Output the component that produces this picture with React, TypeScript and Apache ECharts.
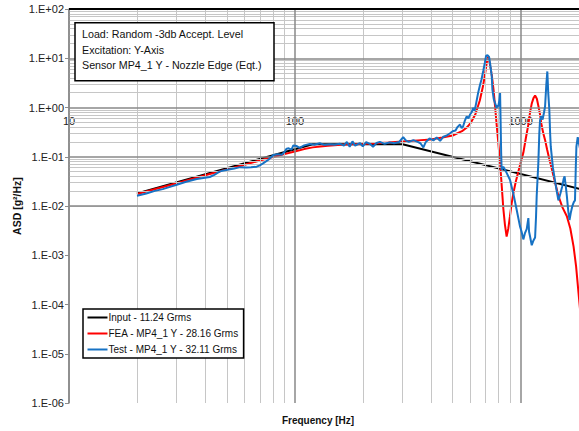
import React, { useEffect, useRef } from 'react';
import * as echarts from 'echarts';

// ---- data ----
const freqInput = [20, 120, 300, 2000];
const asdInput = [0.018, 0.18, 0.18, 0.02];

const freqFea = [
  20, 30, 40, 50, 60, 70, 80, 90, 100, 110,
  120, 140, 160, 180, 200, 230, 260, 300, 350, 400,
  450, 500, 550, 580, 600, 630, 660, 680, 695, 705,
  712, 718, 725, 735, 745, 758, 770, 783, 796, 811,
  825, 838, 852, 867, 882, 897, 912, 928, 950, 977,
  1000, 1028, 1055, 1082, 1101, 1120, 1140, 1159, 1180, 1200,
  1219, 1240, 1260, 1283, 1310, 1340, 1370, 1410, 1470, 1530,
  1602, 1660, 1716, 1760, 1805, 1850,
];
const asdFea = [
  0.0175, 0.029, 0.042, 0.055, 0.069, 0.084, 0.099, 0.113, 0.128, 0.143,
  0.155, 0.168, 0.175, 0.179, 0.182, 0.187, 0.194, 0.204, 0.215, 0.225,
  0.245, 0.27, 0.33, 0.4, 0.48, 0.72, 1.4, 2.6, 4.6, 7.2,
  9.4, 10.6, 9.2, 6.6, 4.6, 2.4, 1.1, 0.45, 0.2, 0.075,
  0.025, 0.009, 0.0042, 0.0024, 0.0035, 0.0062, 0.011, 0.018, 0.03, 0.05,
  0.075, 0.12, 0.24, 0.45, 0.8, 1.2, 1.55, 1.75, 1.5, 1.05,
  0.72, 0.42, 0.3, 0.22, 0.14, 0.09, 0.06, 0.035, 0.016, 0.0095,
  0.0062, 0.0035, 0.0015, 0.0006, 0.00017, 0.00005,
];

const freqTest = [
  20, 22, 24, 26, 28, 30, 33, 36.8, 40, 42,
  44, 46.6, 49, 51.7, 54, 57.2, 61, 64, 67.8, 70,
  72.6, 76.4, 80.4, 84, 87.5, 90, 92, 94, 96.7, 98.5,
  102, 105, 110, 116.5, 122, 129, 135, 143, 150, 158,
  165, 170, 175, 180, 185, 194, 200, 207, 215, 222,
  230, 238, 250, 263, 275, 290, 302, 310, 320, 335,
  350, 360, 371, 380, 395, 411, 425, 440, 455, 471,
  487, 500, 515, 525, 539, 548, 557, 567, 577, 587,
  597, 607, 617, 625, 635, 648, 660, 671, 683, 694,
  703, 713, 725, 735, 745, 750, 760, 770, 783, 790,
  796, 805, 811, 815, 820, 824, 838, 852, 867, 897,
  912, 928, 960, 993, 1010, 1028, 1045, 1064, 1082, 1090,
  1101, 1120, 1140, 1159, 1170, 1178, 1198, 1210, 1219, 1235,
  1251, 1270, 1283, 1300, 1313, 1325, 1340, 1351, 1360, 1390,
  1418, 1445, 1470, 1500, 1528, 1550, 1566, 1585, 1602, 1625,
  1646, 1670, 1694, 1720, 1741, 1755, 1766, 1790, 1830, 1900, 2000,
];
const asdTest = [
  0.0162, 0.018, 0.0203, 0.022, 0.0245, 0.027, 0.031, 0.0353, 0.0375, 0.0388,
  0.043, 0.0505, 0.053, 0.0558, 0.058, 0.0615, 0.0608, 0.0612, 0.063, 0.067,
  0.074, 0.087, 0.108, 0.112, 0.11, 0.125, 0.146, 0.148, 0.14, 0.17,
  0.165, 0.152, 0.17, 0.182, 0.176, 0.188, 0.174, 0.18, 0.176, 0.184,
  0.168, 0.2, 0.16, 0.205, 0.168, 0.19, 0.163, 0.198, 0.183, 0.16,
  0.19, 0.2, 0.183, 0.196, 0.188, 0.2, 0.25, 0.215, 0.2, 0.218,
  0.2, 0.188, 0.155, 0.198, 0.235, 0.215, 0.245, 0.21, 0.255, 0.27,
  0.3, 0.33, 0.34, 0.4, 0.45, 0.38, 0.42, 0.55, 0.66, 0.6,
  0.72, 0.8, 0.98, 0.85, 1.2, 1.96, 2.8, 3.7, 5.5, 8.0,
  11.2, 11.6, 10.6, 7.0, 4.3, 2.3, 1.5, 1.24, 0.98, 1.1,
  1.05, 1.4, 1.96, 0.6, 0.12, 0.054, 0.063, 0.055, 0.047, 0.034,
  0.025, 0.018, 0.0085, 0.0039, 0.003, 0.0021, 0.0028, 0.0034, 0.0057, 0.003,
  0.0024, 0.0016, 0.002, 0.0023, 0.006, 0.016, 0.075, 0.3, 0.55, 0.66,
  0.57, 0.8, 1.05, 3.0, 5.4, 2.0, 0.9, 0.3, 0.16, 0.06,
  0.034, 0.02, 0.013, 0.018, 0.025, 0.035, 0.04, 0.025, 0.016, 0.008,
  0.0052, 0.0075, 0.0099, 0.012, 0.013, 0.06, 0.16, 0.25, 0.15, 0.08, 0.05,
];

const seriesNames = [
  'Input - 11.24 Grms',
  'FEA - MP4_1 Y - 28.16 Grms',
  'Test - MP4_1 Y - 32.11 Grms',
];
const noteLines = [
  'Load: Random -3db Accept. Level',
  'Excitation: Y-Axis',
  'Sensor MP4_1 Y - Nozzle Edge (Eqt.)',
];
const xTitle = 'Frequency [Hz]';
const yTitle = 'ASD [g²/Hz]';

const xTickValues = [10, 100, 1000];
const xTickLabels = ['10', '100', '1000'];
const yTickLabels = ['1.E-06', '1.E-05', '1.E-04', '1.E-03', '1.E-02', '1.E-01', '1.E+00', '1.E+01', '1.E+02'];
const yMajorGrid = [1e-6, 1e-5, 1e-4, 1e-3, 1e-2, 1e-1, 1, 10, 100];
const xMinorGrid = [20, 30, 40, 50, 60, 70, 80, 90, 200, 300, 400, 500, 600, 700, 800, 900, 2000];
const minorSteps = [2, 3, 4, 5, 6, 7, 8, 9];

const X_MIN = 10;
const X_MAX = 2000;
const Y_MIN = 1e-6;
const Y_MAX = 100;
const X_LABEL_AT = 1; // x axis labels sit on y = 1

const FONT = '"Liberation Sans", Arial, sans-serif';

const zip = (xs: number[], ys: number[]) => xs.map((x, i) => [x, ys[i]]);

const GRID_TOP = 9;
const GRID_BOTTOM = 28;
const CHART_H = 431;

export default function App() {
  const ref = useRef<HTMLDivElement>(null);

  useEffect(() => {
    if (!ref.current) return;
    const chart = echarts.init(ref.current, null, { renderer: 'svg' });

    const gridH = CHART_H - GRID_TOP - GRID_BOTTOM;
    const labelOffset =
      -gridH * (Math.log10(X_LABEL_AT) - Math.log10(Y_MIN)) / (Math.log10(Y_MAX) - Math.log10(Y_MIN));

    const yMinorGrid = yMajorGrid.slice(0, -1).flatMap((d) => minorSteps.map((s) => s * d));

    const gridLineSeries = (name: string, z: number, color: string, width: number, items: any[]) => ({
      type: 'line',
      name,
      data: [],
      z,
      silent: true,
      clip: false,
      markLine: {
        silent: true,
        animation: false,
        symbol: ['none', 'none'],
        label: { show: false },
        emphasis: { disabled: true },
        lineStyle: { color, width, type: 'solid' },
        data: items,
      },
    });

    const dataSeries = (name: string, data: number[][], color: string, z: number) => ({
      type: 'line',
      name,
      data,
      z,
      symbol: 'none',
      showSymbol: false,
      clip: true,
      lineStyle: { color, width: 2 },
      itemStyle: { color },
      emphasis: { disabled: true },
    });

    const option: any = {
      animation: false,
      backgroundColor: '#ffffff',
      grid: {
        left: 69,
        top: GRID_TOP,
        right: -9.6,
        bottom: GRID_BOTTOM,
        containLabel: false,
        outerBoundsMode: 'none',
      },
      xAxis: {
        type: 'log',
        logBase: 10,
        min: X_MIN,
        max: X_MAX,
        position: 'bottom',
        offset: labelOffset,
        axisLine: { show: false },
        axisTick: { show: false },
        splitLine: { show: false },
        axisLabel: {
          show: true,
          margin: 8,
          fontSize: 11,
          fontFamily: FONT,
          color: '#222',
          showMaxLabel: false,
          formatter: (v: number) => {
            const i = xTickValues.findIndex((m) => Math.abs(m - v) / m < 1e-6);
            return i >= 0 ? xTickLabels[i] : '';
          },
        },
      },
      yAxis: {
        type: 'log',
        logBase: 10,
        min: Y_MIN,
        max: Y_MAX,
        axisLine: { show: true, lineStyle: { color: '#8c8c8c', width: 1.5 } },
        axisTick: { show: true, length: 4, lineStyle: { color: '#8c8c8c', width: 1 } },
        splitLine: { show: false },
        axisLabel: {
          margin: 5,
          fontSize: 11,
          fontFamily: FONT,
          color: '#222',
          formatter: (v: number) => yTickLabels[Math.round(Math.log10(v)) + 6] ?? '',
        },
      },
      legend: {
        data: seriesNames.map((name) => ({ name, icon: 'path://M0,0H20V2H0Z' })),
        orient: 'vertical',
        left: 83,
        top: 309,
        padding: [3.5, 4.5, 3.5, 4.5],
        itemGap: 6,
        itemWidth: 20,
        itemHeight: 14,
        symbolKeepAspect: true,
        backgroundColor: '#ffffff',
        borderColor: '#000000',
        borderWidth: 1.5,
        borderRadius: 0,
        z: 20,
        selectedMode: false,
        textStyle: { fontSize: 10, fontFamily: FONT, color: '#111', padding: [0, 0, 0, -4] },
      },
      graphic: [
        {
          type: 'rect',
          z: 100,
          shape: { x: 75, y: 22.7, width: 199, height: 58 },
          style: { fill: '#ffffff', stroke: '#000000', lineWidth: 1.5 },
        },
        ...noteLines.map((t, i) => ({
          type: 'text',
          z: 101,
          x: 82,
          y: 34 + i * 15.5,
          style: {
            text: t,
            font: `10.7px ${FONT}`,
            fill: '#111',
            align: 'left',
            verticalAlign: 'middle',
            textAlign: 'left',
            textVerticalAlign: 'middle',
          },
        })),
        {
          type: 'text',
          z: 101,
          x: 318,
          y: 420,
          style: {
            text: xTitle,
            font: `bold 10px ${FONT}`,
            fill: '#111',
            align: 'center',
            verticalAlign: 'middle',
            textAlign: 'center',
            textVerticalAlign: 'middle',
          },
        },
        {
          type: 'text',
          z: 101,
          x: 17,
          y: 206,
          rotation: Math.PI / 2,
          style: {
            text: yTitle,
            font: `bold 10.5px ${FONT}`,
            fill: '#111',
            align: 'center',
            verticalAlign: 'middle',
            textAlign: 'center',
            textVerticalAlign: 'middle',
          },
        },
      ],
      series: [
        gridLineSeries('minorGrid', 1, '#c6c6c6', 1, [
          ...xMinorGrid.map((v) => ({ xAxis: v })),
          ...yMinorGrid.map((v) => ({ yAxis: v })),
        ]),
        gridLineSeries('majorGrid', 2, '#888888', 1.5, [
          ...xTickValues.map((v) => ({ xAxis: v })),
          ...yMajorGrid.map((v) => ({ yAxis: v })),
        ]),
        gridLineSeries('frame', 6, '#000000', 2, [{ yAxis: Y_MAX }, { yAxis: Y_MIN }]),
        dataSeries(seriesNames[0], zip(freqInput, asdInput), '#000000', 3),
        dataSeries(seriesNames[1], zip(freqFea, asdFea), '#ff0000', 4),
        dataSeries(seriesNames[2], zip(freqTest, asdTest), '#1772c4', 5),
      ],
    };

    chart.setOption(option);
    return () => chart.dispose();
  }, []);

  return (
    <div
      ref={ref}
      style={{ position: 'fixed', left: 0, top: 0, width: 579, height: 431, background: '#fff' }}
    />
  );
}
